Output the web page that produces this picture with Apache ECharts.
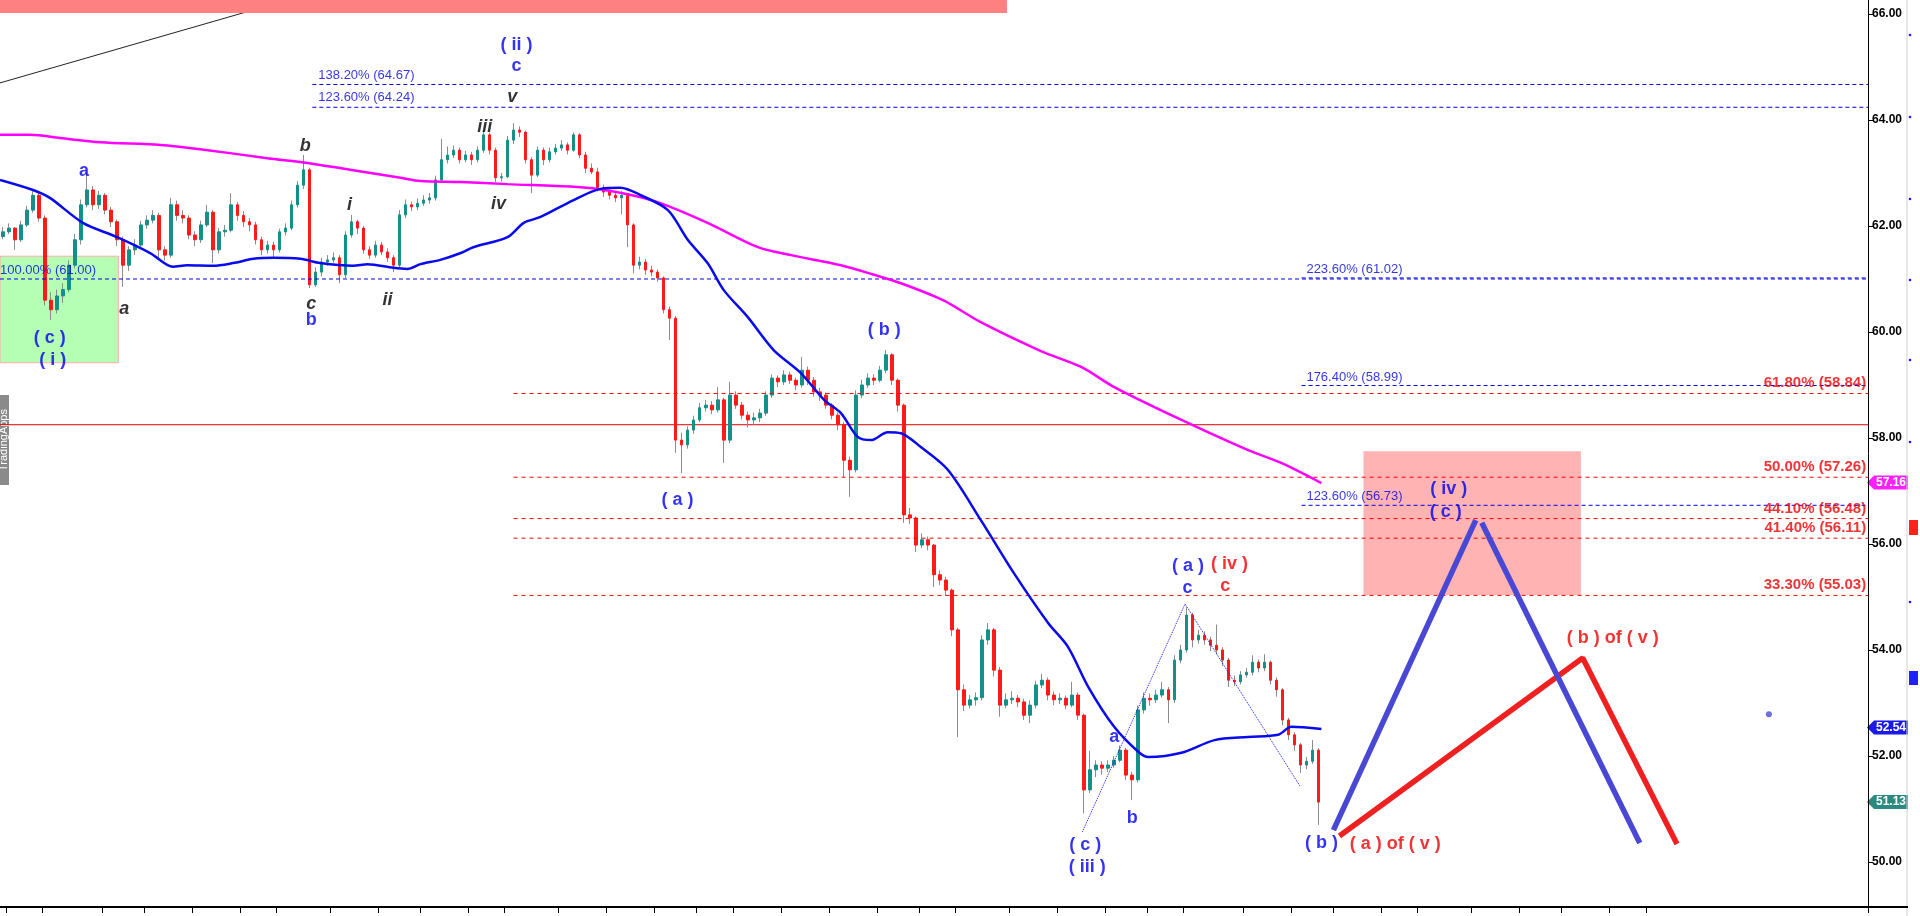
<!DOCTYPE html>
<html><head><meta charset="utf-8">
<script src="https://cdn.jsdelivr.net/npm/echarts@6/dist/echarts.min.js"></script>
<style>html,body{margin:0;padding:0;background:#fff;overflow:hidden}#c{width:1920px;height:916px}</style>
</head><body><div id="c"></div>
<script>
// ---------- DATA ----------
const slotCount = 311;                 // bar slots on the time axis (incl. projection area)
const firstOpen = 61.80;
const closes = [
61.89,61.96,61.74,62.02,62.30,62.58,62.15,60.60,60.42,60.68,
60.80,61.26,61.74,62.40,62.68,62.40,62.58,62.30,62.08,61.74,
61.26,61.55,61.64,62.02,62.11,62.20,61.55,61.45,62.40,62.20,
62.15,61.83,61.74,62.02,62.26,61.55,61.89,61.92,62.40,62.20,
62.08,62.02,61.74,61.55,61.64,61.55,61.89,61.96,62.40,62.77,
63.06,60.89,61.13,61.32,61.36,61.40,61.08,61.83,62.08,61.96,
61.55,61.45,61.64,61.51,61.40,61.26,62.21,62.40,62.36,62.43,
62.49,62.53,62.87,63.25,63.34,63.43,63.25,63.34,63.25,63.43,
63.72,63.43,62.91,62.93,63.62,63.81,63.77,63.25,62.96,63.43,
63.25,63.40,63.47,63.53,63.43,63.72,63.34,63.09,63.02,62.72,
62.64,62.58,62.53,62.58,62.02,61.26,61.32,61.17,61.13,61.02,
60.42,60.26,57.96,57.87,58.15,58.34,58.57,58.62,58.53,58.72,
57.96,58.81,58.62,58.43,58.34,58.38,58.47,58.81,59.13,59.06,
59.19,59.09,59.00,59.28,59.09,58.87,58.81,58.62,58.43,58.25,
57.58,57.40,58.81,59.00,59.13,59.09,59.28,59.57,59.09,58.62,
56.55,56.49,55.98,56.08,55.98,55.42,55.32,55.13,54.38,53.25,
52.96,53.06,53.10,54.19,54.38,53.62,52.96,53.06,53.09,53.02,
52.77,52.96,53.34,53.43,53.15,53.06,53.09,52.96,53.15,52.77,
51.36,51.74,51.83,51.77,51.83,51.92,52.11,51.64,51.55,52.87,
53.09,53.06,53.15,53.25,53.06,53.81,54.00,54.66,54.19,54.28,
54.19,54.09,54.00,53.81,53.43,53.40,53.53,53.58,53.77,53.66,
53.77,53.43,53.25,52.68,52.40,52.21,51.83,51.90,52.11,51.13];
const highs = [
61.98,62.05,61.98,62.10,62.38,62.68,62.62,62.20,60.75,60.80,
60.92,61.35,61.85,62.50,63.02,62.75,62.66,62.62,62.36,62.12,
61.80,61.62,61.75,62.10,62.20,62.30,62.25,61.62,62.53,62.48,
62.30,62.20,61.90,62.10,62.40,62.30,61.96,62.02,62.62,62.45,
62.28,62.15,62.08,61.80,61.72,61.70,61.95,62.05,62.48,62.85,
63.34,63.10,61.22,61.40,61.45,61.50,61.45,61.90,62.21,62.12,
62.00,61.62,61.72,61.70,61.58,61.45,62.30,62.50,62.46,62.52,
62.58,62.62,62.95,63.64,63.50,63.52,63.48,63.42,63.40,63.50,
63.81,63.76,63.48,63.00,63.70,63.94,63.88,63.80,63.30,63.50,
63.48,63.48,63.55,63.62,63.58,63.77,63.75,63.40,63.18,63.10,
62.78,62.70,62.65,62.66,62.62,62.05,61.42,61.38,61.25,61.18,
61.05,60.48,60.30,58.10,58.22,58.42,58.66,58.72,58.70,58.96,
58.76,59.06,58.88,58.68,58.50,58.48,58.55,58.88,59.20,59.18,
59.28,59.25,59.14,59.53,59.35,59.15,58.95,58.86,58.66,58.48,
58.30,57.65,58.90,59.10,59.22,59.20,59.36,59.66,59.60,59.12,
58.65,56.68,56.52,56.20,56.14,56.00,55.50,55.38,55.16,54.42,
53.35,53.15,53.20,54.28,54.51,54.42,53.68,53.18,53.22,53.15,
53.08,53.05,53.42,53.55,53.48,53.22,53.18,53.14,53.40,53.20,
52.80,52.10,51.92,51.90,51.92,52.00,52.20,52.15,51.70,52.95,
53.20,53.18,53.25,53.40,53.30,53.90,54.10,54.81,54.70,54.38,
54.35,54.25,54.48,54.05,53.85,53.52,53.60,53.66,53.90,53.82,
53.92,53.80,53.48,53.28,52.72,52.45,52.25,51.98,52.30,52.15];
const lows = [
61.75,61.85,61.55,61.70,61.98,62.25,62.08,60.50,60.23,60.35,
60.55,60.75,61.20,61.65,62.35,62.30,62.32,62.22,61.98,61.62,
60.85,61.15,61.45,61.58,61.95,62.05,61.36,61.35,61.40,62.10,
62.05,61.75,61.62,61.68,61.98,61.30,61.48,61.80,61.88,62.10,
61.98,61.90,61.65,61.45,61.48,61.40,61.50,61.82,61.92,62.35,
62.70,60.83,60.85,61.05,61.25,61.30,60.92,61.02,61.78,61.85,
61.48,61.38,61.40,61.45,61.32,61.13,61.22,62.15,62.28,62.30,
62.38,62.42,62.48,62.82,63.18,63.28,63.18,63.20,63.15,63.20,
63.38,63.35,62.83,62.84,62.90,63.55,63.68,63.18,62.62,62.92,
63.15,63.20,63.35,63.42,63.35,63.40,63.28,63.00,62.98,62.65,
62.55,62.50,62.45,62.22,61.60,61.11,61.18,61.08,61.05,60.95,
60.35,59.85,57.72,57.34,57.80,58.08,58.30,58.50,58.45,58.48,
57.53,57.90,58.55,58.35,58.20,58.25,58.30,58.42,58.76,58.96,
59.00,59.02,58.90,58.95,59.00,58.78,58.70,58.55,58.35,58.15,
57.26,56.89,57.35,58.75,58.95,59.00,59.05,59.22,59.00,58.50,
56.40,56.38,55.85,55.92,55.88,55.19,55.22,55.02,54.26,52.36,
52.85,52.90,52.95,53.05,54.10,53.50,52.74,52.90,52.98,52.92,
52.68,52.62,52.90,53.28,53.05,52.96,52.98,52.88,52.92,52.68,
50.92,51.30,51.60,51.65,51.70,51.78,51.88,51.55,51.17,51.50,
52.80,52.95,53.00,53.10,52.62,53.00,53.75,53.95,54.05,54.12,
54.10,53.98,53.92,53.70,53.30,53.32,53.35,53.48,53.52,53.58,
53.60,53.35,53.12,52.58,52.30,52.10,51.68,51.75,51.85,50.70];

// moving averages: [bar index, value]
const blueMA = [[-0.5,62.87],[5,62.68],[7.8,62.53],[13.3,62.06],[19,61.79],[24.5,61.49],[28.3,61.23],[30.7,61.26],[35,61.25],[38.3,61.30],[41.7,61.38],[45,61.40],[49.5,61.38],[52.8,61.30],[58.3,61.25],[60.7,61.28],[65,61.21],[67.3,61.19],[69.5,61.28],[72.8,61.36],[76.2,61.49],[78.3,61.60],[84,61.79],[86.7,62.06],[89.5,62.17],[95,62.49],[99.5,62.70],[102.8,62.72],[106.2,62.58],[110.7,62.30],[114,61.74],[117.3,61.30],[120,60.79],[124,60.28],[128.3,59.66],[132.8,59.23],[136.7,58.72],[139.5,58.47],[142.3,58.02],[144.5,57.96],[147.3,58.11],[149.5,58.09],[152.8,57.83],[157.3,57.40],[162.8,56.45],[168.3,55.45],[174,54.51],[177.3,54.06],[180.7,53.30],[185,52.55],[189,52.08],[190.7,51.98],[196.2,52.06],[201.7,52.30],[207.3,52.36],[212.3,52.40],[214.5,52.55],[219.5,52.51]];
const magentaMA = [[-0.5,63.72],[4.5,63.72],[9.5,63.66],[16.2,63.58],[26.2,63.53],[32.8,63.45],[44,63.28],[50.7,63.19],[57.8,63.06],[66.2,62.91],[69.5,62.85],[76.2,62.83],[84,62.79],[95,62.74],[99,62.70],[104,62.60],[109,62.45],[117.3,62.06],[125.7,61.60],[131.2,61.45],[139.5,61.26],[145,61.08],[149.5,60.92],[156.5,60.60],[162.7,60.19],[172.8,59.64],[179.5,59.34],[185,58.96],[196.2,58.34],[207.3,57.77],[212.8,57.53],[219.5,57.15]];

// fibonacci levels: [value, first bar index]
const fibBlue = [[64.67,51.5],[64.24,51.5],[61.00,-0.5],[61.02,216.2],[58.99,216.2],[56.73,216.2]];
const fibRed = [[58.84,85],[57.26,85],[56.48,85],[56.11,85],[55.03,85]];
const levelRedSolid = 58.25;
const lastBarSlot = 310.5;

// wave-count connectors and projections: [bar index, value]
const dottedWave = [[179.7,50.57],[196.8,54.87],[216,51.42]];
const projBlueUp = [[221.5,50.60],[245.2,56.45]];
const projBlueDown = [[246.2,56.40],[272.5,50.36]];
const projRed = [[222.5,50.49],[263,53.85],[278.7,50.34]];
const trendLine = [[-0.5,64.70],[47.3,66.26]];
const loneDot = [[294,52.79]];

// zones: [[x0,y0],[x1,y1]]
const greenZone = [[-0.5,61.43],[19.2,59.42]];
const pinkZone = [[226.5,57.75],[262.7,55.04]];

// text labels: [text, bar index, value, kind]
const waveLabels = [
 ['( ii )',85.5,65.42,'b'],['c',85.5,65.02,'b'],['v',84.8,64.43,'k'],['iii',80.2,63.87,'k'],
 ['b',50.3,63.51,'k'],['a',13.5,63.04,'b'],['iv',82.5,62.42,'k'],['i',57.7,62.40,'k'],
 ['a',20.2,60.43,'k'],['c',51.3,60.53,'k'],['b',51.3,60.23,'b'],['ii',64,60.60,'k'],
 ['( c )',7.8,59.89,'b'],['( i )',8.3,59.47,'b'],['( b )',146.7,60.04,'b'],['( a )',112.3,56.83,'b'],
 ['( a )',197.3,55.58,'b'],['( iv )',204.2,55.62,'r'],['c',197.2,55.17,'b'],['c',203.5,55.21,'r'],
 ['a',185,52.36,'b'],['b',188,50.83,'b'],['( c )',180.2,50.32,'b'],['( iii )',180.5,49.91,'b'],
 ['( iv )',240.7,57.04,'b'],['( c )',240.2,56.60,'b'],['( b ) of ( v )',268,54.23,'r'],
 ['( b )',219.5,50.36,'b'],['( a ) of ( v )',231.8,50.34,'r']
];
// fib texts: [text, bar index, value, kind]  (fb = blue left anchored, fr = red right anchored)
const fibLabels = [
 ['138.20% (64.67)',52.5,64.85,'fb'],['123.60% (64.24)',52.5,64.42,'fb'],['100.00% (61.00)',-0.5,61.17,'fb'],
 ['223.60% (61.02)',217,61.19,'fb'],['176.40% (58.99)',217,59.15,'fb'],['123.60% (56.73)',217,56.89,'fb'],
 ['61.80% (58.84)',310.2,59.04,'fr'],['50.00% (57.26)',310.2,57.45,'fr'],['44.10% (56.48)',310.2,56.66,'fr'],
 ['41.40% (56.11)',310.2,56.30,'fr'],['33.30% (55.03)',310.2,55.23,'fr']
];
const dayTickSlots = [1,7,17,24,32,40,46,55,63,70,78,84,93,101,109,116,122,130,138,146,153,159,168,176,184,191,197,207,215,222,230,236,245,253,260,268,274];
const lastTags = [['57.16',57.16,'#ff1fff'],['52.54',52.54,'#1a1aee'],['51.13',51.13,'#2a8a80']];

// ---------- CHART ----------
const FONT = 'Liberation Sans, Arial, sans-serif';
const categories = Array.from({length: slotCount}, (_, i) => 'bar' + i);
const tickSet = new Set(dayTickSlots);
const ohlc = closes.map((c, i) => [i === 0 ? firstOpen : closes[i - 1], c, lows[i], highs[i]]);
const bodies = ohlc.map(d => [d[0], d[1], Math.min(d[0], d[1]), Math.max(d[0], d[1])]);

const styles = {
  b: {color:'#0000ee', fontSize:18, fontWeight:'bold', fontStyle:'normal', align:'center'},
  r: {color:'#ee0000', fontSize:18, fontWeight:'bold', fontStyle:'normal', align:'center'},
  k: {color:'#000000', fontSize:18, fontWeight:'bold', fontStyle:'italic', align:'center'},
  fb:{color:'#0000e0', fontSize:13, fontWeight:'normal', fontStyle:'normal', align:'left'},
  fr:{color:'#ee0000', fontSize:15, fontWeight:'bold', fontStyle:'normal', align:'right'}
};
const textPoints = waveLabels.concat(fibLabels).map(([t, x, y, k]) => ({
  value: [x, y],
  label: Object.assign({show:true, formatter:t, position:'inside', verticalAlign:'middle', fontFamily:FONT}, styles[k])
}));

function hline(data, color, type, width, z) {
  return {type:'line', xAxisIndex:1, yAxisIndex:0, data, symbol:'none', silent:true, z,
          lineStyle:{color, type, width}, animation:false};
}

const series = [
  {type:'line', xAxisIndex:1, yAxisIndex:0, data:[], symbol:'none', silent:true, z:1,
   markArea:{silent:true, data:[
     [{coord:greenZone[0], itemStyle:{color:'#b4ffb4', borderColor:'#ffaaaa', borderWidth:1}}, {coord:greenZone[1]}],
     [{coord:pinkZone[0], itemStyle:{color:'#ffb3b3'}}, {coord:pinkZone[1]}]
   ]}},
  hline([[ -0.5, levelRedSolid],[lastBarSlot, levelRedSolid]], '#e00000', 'solid', 1, 2),
  hline(trendLine, '#222', 'solid', 1, 2),
  {type:'candlestick', xAxisIndex:0, yAxisIndex:0, data:ohlc, barWidth:1, silent:true, z:3,
   itemStyle:{color:'#8c8c8c', color0:'#8c8c8c', borderColor:'#8c8c8c', borderColor0:'#8c8c8c', borderWidth:1}},
  {type:'candlestick', xAxisIndex:0, yAxisIndex:0, data:bodies, barWidth:3, silent:true, z:4,
   itemStyle:{color:'#159089', color0:'#ff1a1a', borderColor:'#159089', borderColor0:'#ff1a1a', borderWidth:1}}
];
fibBlue.forEach(([v, s]) => series.push(hline([[s, v],[lastBarSlot, v]], '#0000e8', [4,3], 1, 5)));
fibRed.forEach(([v, s]) => series.push(hline([[s, v],[lastBarSlot, v]], '#ff0000', [4,4], 1, 5)));
series.push(Object.assign(hline(magentaMA, '#ff00ff', 'solid', 2.5, 6), {smooth:0.3}));
series.push(Object.assign(hline(blueMA, '#0a0aee', 'solid', 2.5, 6), {smooth:0.3}));
series.push(hline(dottedWave, '#1a1aee', 'dotted', 1, 6));
series.push(hline(projRed, '#ee2020', 'solid', 5.5, 7));
series.push(hline(projBlueUp, '#4848d4', 'solid', 5.5, 8));
series.push(hline(projBlueDown, '#4848d4', 'solid', 5.5, 8));
series.push({type:'scatter', xAxisIndex:1, yAxisIndex:0, data:loneDot, symbolSize:6, silent:true, z:8,
             itemStyle:{color:'#4848d4'}});
series.push({type:'scatter', xAxisIndex:1, yAxisIndex:0, data:textPoints, symbolSize:1, silent:true, z:20,
             itemStyle:{color:'rgba(0,0,0,0)'}});

const chart = echarts.init(document.getElementById('c'), null, {renderer:'canvas'});
chart.setOption({
  animation:false,
  backgroundColor:'#ffffff',
  grid:{left:0, right:52, top:0, bottom:9, containLabel:false},
  xAxis:[
    {type:'category', data:categories, boundaryGap:true,
     axisLine:{show:true, lineStyle:{color:'#000', width:2}},
     axisTick:{show:true, interval:(i) => tickSet.has(i), length:6, lineStyle:{color:'#000', width:1}},
     axisLabel:{show:false}, splitLine:{show:false}},
    {type:'value', min:-0.5, max:lastBarSlot, show:false, splitLine:{show:false}}
  ],
  yAxis:{type:'value', position:'right', min:49.151, max:66.264, splitNumber:8,
    axisLine:{show:true, onZero:false, lineStyle:{color:'#000', width:1}},
    axisTick:{show:true, length:5, lineStyle:{color:'#000'}},
    axisLabel:{show:true, formatter:(v) => v.toFixed(2), color:'#000', fontSize:12, fontWeight:'bold',
               fontFamily:FONT, margin:4, showMinLabel:false, showMaxLabel:false},
    splitLine:{show:false}},
  series
});

// right-axis value tags, placed through the axis scale
const gridRight = 1868;
const graphics = [
  {type:'rect', id:'banner', shape:{x:0, y:0, width:1007, height:13}, style:{fill:'#ff8080'}, z:100},
  {type:'line', id:'sep', shape:{x1:1907, y1:0, x2:1907, y2:916}, style:{stroke:'#d0d0d0', lineWidth:1}, z:100},
  {type:'line', id:'axisExt', shape:{x1:1868, y1:907, x2:1908, y2:907}, style:{stroke:'#000', lineWidth:2}, z:100},
  {type:'rect', id:'sqR', shape:{x:1909, y:520, width:9, height:15}, style:{fill:'#ff2020'}, z:100},
  {type:'rect', id:'sqB', shape:{x:1909, y:671, width:9, height:14}, style:{fill:'#2020ff'}, z:100},
  {type:'group', id:'tab', z:100, children:[
    {type:'rect', shape:{x:0, y:395, width:9, height:90}, style:{fill:'#8a8a8a'}},
    {type:'text', x:4, y:440, rotation:Math.PI/2,
     style:{text:'TradingApps', fill:'#fff', font:'11px ' + FONT, align:'center', verticalAlign:'middle'}}
  ]}
];
[35,117,199,280,360,442,602].forEach((y, k) => graphics.push(
  {type:'circle', id:'sd' + k, shape:{cx:1910, cy:y, r:1.3}, style:{fill:'#1a1aee'}, z:100}));
lastTags.forEach(([t, v, col], k) => {
  const y = chart.convertToPixel({yAxisIndex:0}, v);
  graphics.push({type:'group', id:'tag' + k, z:110, children:[
    {type:'polygon', shape:{points:[[gridRight - 1, y],[gridRight + 6, y - 7],[gridRight + 40, y - 7],[gridRight + 40, y + 7],[gridRight + 6, y + 7]]},
     style:{fill:col}},
    {type:'text', x:gridRight + 23, y:y, style:{text:t, fill:'#fff', font:'bold 12px ' + FONT, align:'center', verticalAlign:'middle'}}
  ]});
});
chart.setOption({graphic:graphics});
</script>
</body></html>
